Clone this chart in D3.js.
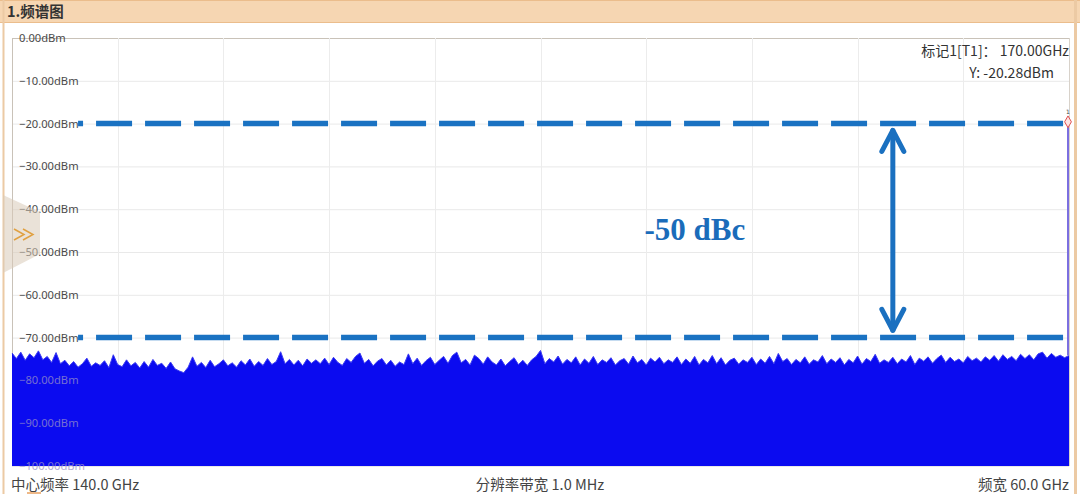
<!DOCTYPE html>
<html>
<head>
<meta charset="utf-8">
<script src="https://cdn.jsdelivr.net/npm/d3@7/dist/d3.min.js"></script>
<style>
  html, body { margin: 0; padding: 0; background: #fff; }
  svg { display: block; }
</style>
</head>
<body>
<svg id="chart" width="1080" height="494"></svg>
<script>
// ---------------- DATA ----------------
const title = "1.频谱图";
const freqStart = 110;     // GHz
const freqStop = 170;      // GHz
const freqStep = 0.25;     // GHz per trace sample
const freqGridTicks = [110,116,122,128,134,140,146,152,158,164,170];
const levelTicks = [0,-10,-20,-30,-40,-50,-60,-70,-80,-90,-100];
const noiseLevels = [
  -73.6,-74.9,-73.4,-75.3,-73.8,-74.7,-73.1,-75.2,-74.4,-75.8,
  -73.5,-76.1,-75.3,-76.6,-75.6,-76.9,-76.1,-74.8,-76.7,-75.9,
  -76.5,-75.4,-77.0,-74.0,-76.3,-76.8,-75.2,-76.6,-75.8,-77.1,
  -75.6,-76.9,-75.1,-76.5,-76.0,-77.2,-75.7,-77.3,-77.8,-78.2,
  -76.9,-74.5,-76.7,-75.8,-77.0,-75.3,-76.8,-76.1,-75.2,-76.6,
  -75.9,-76.9,-75.4,-76.4,-75.0,-76.7,-75.6,-76.5,-74.9,-76.3,
  -75.6,-73.3,-76.1,-75.1,-76.4,-75.3,-76.6,-75.0,-76.0,-75.2,
  -76.1,-74.8,-76.3,-74.6,-75.8,-76.5,-74.9,-75.8,-74.4,-73.6,
  -76.0,-75.1,-76.6,-75.5,-74.9,-76.4,-75.3,-76.7,-75.7,-76.3,
  -73.8,-76.1,-74.8,-76.5,-75.4,-74.6,-76.3,-75.3,-74.4,-76.0,
  -74.2,-73.4,-75.9,-75.1,-76.4,-74.1,-74.9,-76.2,-74.5,-75.7,
  -76.4,-75.0,-76.6,-75.6,-74.7,-76.3,-75.3,-76.5,-75.2,-74.4,
  -73.0,-76.1,-74.9,-75.7,-74.3,-76.2,-75.1,-75.9,-74.5,-76.4,
  -75.0,-76.0,-74.4,-76.3,-75.2,-75.8,-74.7,-76.4,-75.4,-74.9,
  -76.2,-74.3,-75.9,-75.1,-76.4,-74.8,-75.7,-74.6,-76.1,-75.2,
  -75.8,-74.5,-76.3,-75.0,-76.0,-74.4,-76.4,-75.1,-75.9,-74.2,
  -76.1,-74.7,-76.4,-75.3,-74.8,-76.2,-75.2,-75.8,-74.6,-76.3,
  -75.0,-76.0,-74.4,-76.1,-73.7,-75.6,-74.9,-76.3,-75.1,-75.9,
  -74.5,-76.2,-75.2,-75.7,-74.2,-76.1,-75.0,-75.8,-74.7,-76.4,
  -75.1,-75.9,-74.3,-76.2,-74.9,-75.6,-73.9,-76.0,-75.2,-75.8,
  -74.6,-76.1,-75.0,-75.7,-74.2,-76.3,-74.8,-75.5,-74.5,-76.0,
  -74.9,-74.1,-75.8,-74.6,-75.6,-75.0,-75.9,-74.4,-75.4,-74.8,
  -75.7,-74.5,-75.3,-74.2,-75.5,-74.0,-75.1,-74.4,-75.4,-73.9,
  -74.9,-74.0,-75.2,-73.8,-73.4,-74.8,-73.7,-74.6,-74.1,-74.7,
  -74.2
];
const markerFreq = 170.0;
const markerLevel = -20.28;
const markerLines = ["标记1[T1]： 170.00GHz", "Y: -20.28dBm"];
const refLevels = [-20, -70];
const refLineStartFreq = 113.75;
const arrowFreq = 160;
const arrowFrom = -21.6;
const arrowTo = -68.3;
const annotationText = "-50 dBc";
const annotationFreq = 145.9;
const annotationLevel = -47.2;
const footer = ["中心频率 140.0 GHz", "分辨率带宽 1.0 MHz", "频宽 60.0 GHz"];

// ---------------- LAYOUT ----------------
const W = 1080, H = 494;
const margin = {top: 38, right: 11, bottom: 28, left: 12};
const svg = d3.select("#chart");

const x = d3.scaleLinear().domain([freqStart, freqStop]).range([margin.left, W - margin.right]);
const y = d3.scaleLinear().domain([0, -100]).range([margin.top, H - margin.bottom]);

// panel frame
svg.append("rect").attr("x", 0).attr("y", 0).attr("width", W).attr("height", H).attr("fill", "#fff");
svg.append("rect").attr("x", 0).attr("y", 0).attr("width", W).attr("height", 23).attr("fill", "#f6d6b2");
svg.append("line").attr("x1", 0).attr("x2", W).attr("y1", 22.5).attr("y2", 22.5).attr("stroke", "#ebbd8c").attr("stroke-width", 1);
svg.append("line").attr("x1", 0).attr("x2", W).attr("y1", 0.5).attr("y2", 0.5).attr("stroke", "#ebbd8c").attr("stroke-width", 1);
svg.append("line").attr("x1", 3.5).attr("x2", 3.5).attr("y1", 0).attr("y2", H).attr("stroke", "#eccaa4").attr("stroke-width", 2);
svg.append("line").attr("x1", 1075.5).attr("x2", 1075.5).attr("y1", 0).attr("y2", H).attr("stroke", "#eccaa4").attr("stroke-width", 3);
svg.append("text").attr("x", 7).attr("y", 17).text(title)
  .attr("font-family", "'Noto Sans CJK SC', sans-serif").attr("font-weight", "bold")
  .attr("font-size", 14.5).attr("fill", "#333");

// grid
const grid = svg.append("g");
grid.selectAll("line.h").data(levelTicks).join("line")
  .attr("x1", x(freqStart)).attr("x2", x(freqStop))
  .attr("y1", d => y(d) + 0.5).attr("y2", d => y(d) + 0.5)
  .attr("stroke", d => d === 0 ? "#c9c2b8" : "#e9e9e9").attr("stroke-width", 1);
grid.selectAll("line.v").data(freqGridTicks).join("line")
  .attr("x1", d => Math.round(x(d)) + 0.5).attr("x2", d => Math.round(x(d)) + 0.5)
  .attr("y1", y(0)).attr("y2", y(-100))
  .attr("stroke", d => (d === freqStart) ? "#c9c2b8" : (d === freqStop ? "#d8d2ca" : "#ececec")).attr("stroke-width", 1);

// noise trace
const trace = noiseLevels.map((v, i) => ({f: freqStart + i * freqStep, v}));
const area = d3.area().x(d => x(d.f)).y0(y(-100)).y1(d => y(d.v));
svg.append("path").datum(trace).attr("d", area).attr("fill", "#0b0bf0");
svg.append("path").datum(trace).attr("d", d3.line().x(d => x(d.f)).y(d => y(d.v)))
  .attr("fill", "none").attr("stroke", "#3a3af2").attr("stroke-width", 1);

// marker spike
svg.append("line").attr("x1", x(markerFreq) - 1).attr("x2", x(markerFreq) - 1)
  .attr("y1", y(markerLevel)).attr("y2", y(noiseLevels[noiseLevels.length - 1]))
  .attr("stroke", "#7b6fe0").attr("stroke-width", 2);
svg.append("path")
  .attr("d", d3.symbol().type(d3.symbolDiamond).size(40)())
  .attr("transform", `translate(${x(markerFreq) - 1},${y(markerLevel) - 3})`)
  .attr("fill", "#fde3e3").attr("stroke", "#e05050").attr("stroke-width", 1);
svg.append("text").attr("x", x(markerFreq) - 1).attr("y", y(markerLevel) - 11).text("1")
  .attr("text-anchor", "middle").attr("font-size", 6).attr("font-family", "DejaVu Sans").attr("fill", "#444");

// y tick labels
svg.append("g").selectAll("text").data(levelTicks).join("text")
  .attr("x", 19).attr("y", d => y(d)).attr("dy", "0.35em")
  .text(d => d3.format(".2f")(d === 0 ? 0 : d) + "dBm")
  .attr("font-family", "'Noto Sans', sans-serif").attr("font-size", 11.2)
  .attr("fill", d => d < -72 ? "#9a90c8" : "#4a4a4a")
  .attr("opacity", d => d < -72 ? 0.75 : 1);

// left tab
svg.append("path")
  .attr("d", d3.line()([[3, 195], [40, 212], [40, 254], [3, 273]]) + "Z")
  .attr("fill", "#d9cbb8").attr("opacity", 0.55);
const chev = svg.append("g").attr("fill", "none").attr("stroke", "#e0a040").attr("stroke-width", 1.5);
[14, 23].forEach(cx => {
  chev.append("path").attr("d", d3.line()([[cx, 229], [cx + 10, 234.5], [cx, 240]]));
});

// reference dashed lines
svg.append("g").selectAll("line").data(refLevels).join("line")
  .attr("x1", x(refLineStartFreq)).attr("x2", x(freqStop) - 4)
  .attr("y1", d => y(d)).attr("y2", d => y(d))
  .attr("stroke", "#1a72c2").attr("stroke-width", 5.5)
  .attr("stroke-dasharray", "36 13").attr("stroke-dashoffset", 31);

// double arrow
const ax = x(arrowFreq);
const arr = svg.append("g").attr("stroke", "#1a70c0").attr("stroke-width", 5).attr("fill", "none")
  .attr("stroke-linecap", "round").attr("stroke-linejoin", "round");
arr.append("line").attr("x1", ax).attr("x2", ax).attr("y1", y(arrowFrom)).attr("y2", y(arrowTo));
arr.append("path").attr("d", d3.line()([[ax - 11, y(arrowFrom) + 21], [ax, y(arrowFrom)], [ax + 11, y(arrowFrom) + 21]]));
arr.append("path").attr("d", d3.line()([[ax - 11, y(arrowTo) - 21], [ax, y(arrowTo)], [ax + 11, y(arrowTo) - 21]]));

svg.append("text").attr("x", x(annotationFreq)).attr("y", y(annotationLevel)).text(annotationText)
  .attr("font-family", "'Liberation Serif', 'Times New Roman', serif").attr("font-weight", "bold")
  .attr("font-size", 31).attr("fill", "#1a6cba");

// marker readout
svg.append("text").attr("x", 1069).attr("y", 56).text(markerLines[0])
  .attr("text-anchor", "end").attr("font-family", "'Noto Sans CJK SC', sans-serif")
  .attr("font-size", 14).attr("fill", "#333");
svg.append("text").attr("x", 1054).attr("y", 78).text(markerLines[1])
  .attr("text-anchor", "end").attr("font-family", "'Noto Sans CJK SC', sans-serif")
  .attr("font-size", 14).attr("fill", "#333");

// footer
const ff = "'Noto Sans CJK SC', sans-serif";
svg.append("text").attr("x", 11).attr("y", 490).text(footer[0]).attr("font-family", ff).attr("font-size", 14.5).attr("fill", "#444");
svg.append("text").attr("x", 540).attr("y", 490).text(footer[1]).attr("text-anchor", "middle").attr("font-family", ff).attr("font-size", 14.5).attr("fill", "#444");
svg.append("text").attr("x", 1069).attr("y", 490).text(footer[2]).attr("text-anchor", "end").attr("font-family", ff).attr("font-size", 14.5).attr("fill", "#444");
svg.append("line").attr("x1", 27).attr("x2", 41).attr("y1", 493).attr("y2", 493).attr("stroke", "#e8a060").attr("stroke-width", 1.5);
</script>
</body>
</html>
